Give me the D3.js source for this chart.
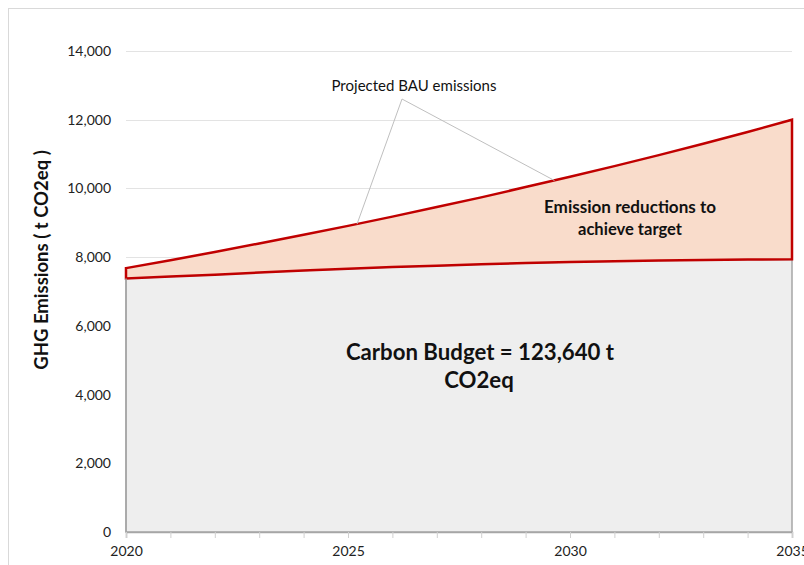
<!DOCTYPE html>
<html><head><meta charset="utf-8">
<script src="https://cdn.jsdelivr.net/npm/d3@7"></script>
<style>body{margin:0;background:#fff}svg{display:block;font-family:Lato,"Open Sans",sans-serif}</style>
</head><body><svg id="c" width="804" height="565"></svg>
<script>
const years = [2020,2021,2022,2023,2024,2025,2026,2027,2028,2029,2030,2031,2032,2033,2034,2035];
const bauEmissions = [7680,7910,8150,8400,8650,8910,9180,9460,9740,10040,10340,10650,10970,11300,11640,12000];
const carbonBudget = [7380,7440,7490,7550,7610,7660,7710,7750,7790,7830,7860,7880,7900,7920,7930,7940];
const yTicks = [0,2000,4000,6000,8000,10000,12000,14000];
const xLabelYears = [2020,2025,2030,2035];

const svg = d3.select("#c");
const x = d3.scaleLinear().domain([2020,2035]).range([126,792]);
const y = d3.scaleLinear().domain([0,14000]).range([532,51]);

// chart border
svg.append("rect").attr("x",8.5).attr("y",8.5).attr("width",820).attr("height",600)
  .attr("fill","none").attr("stroke","#d9d9d9").attr("stroke-width",1);

// gridlines
svg.append("g").selectAll("line").data(yTicks.filter(d=>d>0)).join("line")
  .attr("x1",126).attr("x2",792).attr("y1",d=>Math.round(y(d))+0.5).attr("y2",d=>Math.round(y(d))+0.5)
  .attr("stroke","#e3e3e3").attr("stroke-width",1);

const data = years.map((yr,i)=>({yr, bau:bauEmissions[i], bud:carbonBudget[i]}));

// budget area (gray)
const areaBud = d3.area().x(d=>x(d.yr)).y0(y(0)).y1(d=>y(d.bud));
svg.append("path").datum(data).attr("d",areaBud).attr("fill","#eeeeee")
  .attr("stroke","#a6a6a6").attr("stroke-width",1.5);

// reductions area (orange)
const areaRed = d3.area().x(d=>x(d.yr)).y0(d=>y(d.bud)).y1(d=>y(d.bau));
svg.append("path").datum(data).attr("d",areaRed).attr("fill","#f9dccb")
  .attr("stroke","#c00000").attr("stroke-width",2.5).attr("stroke-linejoin","miter");

// axes
const yAxis = d3.axisLeft(y).tickValues(yTicks).tickSize(0).tickPadding(15).tickFormat(d3.format(","));
const gy = svg.append("g").attr("transform","translate(126,0)").call(yAxis);
gy.select(".domain").remove();
gy.selectAll("text").attr("font-size",14).attr("fill","#222").attr("font-family","Lato,sans-serif");

const xAxis = d3.axisBottom(x).tickValues(years).tickSize(6).tickFormat(d=>xLabelYears.includes(d)?d:"");
const gx = svg.append("g").attr("transform","translate(0,532)").call(xAxis);
gx.select(".domain").attr("stroke","#a6a6a6").attr("stroke-width",1.5);
gx.selectAll(".tick line").attr("stroke","#d0d0d0");
gx.selectAll("text").attr("font-size",14).attr("fill","#222").attr("dy","1.05em").attr("font-family","Lato,sans-serif");

// left axis line
svg.append("line").attr("x1",126).attr("x2",126).attr("y1",y(carbonBudget[0])).attr("y2",532)
  .attr("stroke","#a6a6a6").attr("stroke-width",1.5);

// y title
svg.append("text").attr("transform","translate(48,260) rotate(-90)").attr("text-anchor","middle")
  .attr("font-size",18.5).attr("font-weight","bold").attr("fill","#111").text("GHG Emissions ( t CO2eq )");

// annotation
const lblX = 402, lblY = 99;
svg.append("line").attr("x1",lblX).attr("y1",lblY).attr("x2",x(2025)+9).attr("y2",y(8960))
  .attr("stroke","#bfbfbf").attr("stroke-width",1);
svg.append("line").attr("x1",lblX).attr("y1",lblY).attr("x2",x(2029.65)).attr("y2",y(10230))
  .attr("stroke","#bfbfbf").attr("stroke-width",1);
svg.append("text").attr("x",414).attr("y",91).attr("text-anchor","middle").attr("font-size",14.5)
  .attr("textLength",165).attr("lengthAdjust","spacingAndGlyphs")
  .attr("fill","#111").text("Projected BAU emissions");

svg.append("text").attr("x",630).attr("y",213).attr("text-anchor","middle").attr("font-size",16.5)
  .attr("textLength",172).attr("lengthAdjust","spacingAndGlyphs")
  .attr("font-weight","bold").attr("fill","#111").text("Emission reductions to");
svg.append("text").attr("x",630).attr("y",235).attr("text-anchor","middle").attr("font-size",16.5)
  .attr("textLength",104).attr("lengthAdjust","spacingAndGlyphs")
  .attr("font-weight","bold").attr("fill","#111").text("achieve target");

svg.append("text").attr("x",480).attr("y",360).attr("text-anchor","middle").attr("font-size",22.2)
  .attr("font-weight","bold").attr("fill","#111").text("Carbon Budget = 123,640 t");
svg.append("text").attr("x",479).attr("y",388).attr("text-anchor","middle").attr("font-size",22.2)
  .attr("font-weight","bold").attr("fill","#111").text("CO2eq");
</script></body></html>
